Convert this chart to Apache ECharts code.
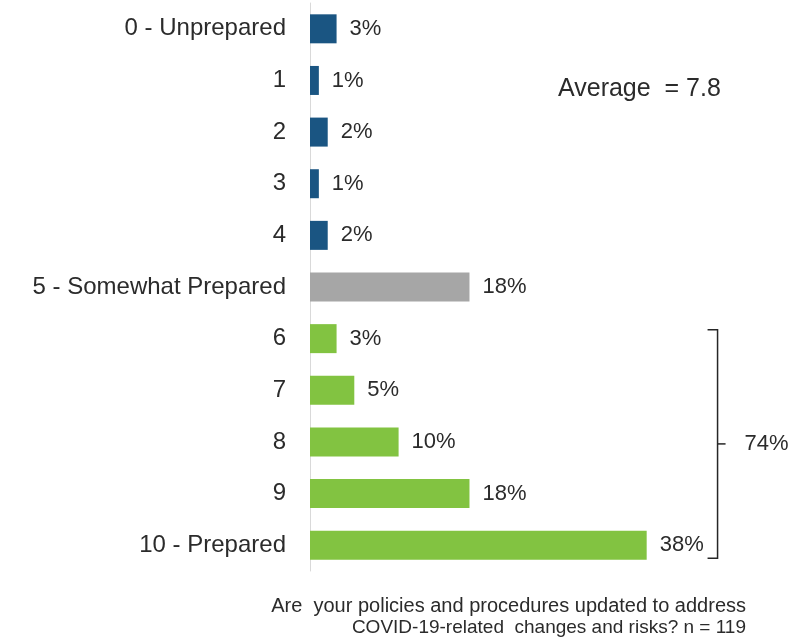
<!DOCTYPE html>
<html>
<head>
<meta charset="utf-8">
<script src="https://cdn.jsdelivr.net/npm/echarts@6/dist/echarts.min.js"></script>
<style>
  html, body { margin: 0; padding: 0; background: #ffffff; }
  #chart { width: 805px; height: 637px; }
</style>
</head>
<body>
<div id="chart"></div>
<script>
// Preparedness scale, 0 (unprepared) to 10 (prepared)
const categories = [
  '0 - Unprepared', '1', '2', '3', '4', '5 - Somewhat Prepared',
  '6', '7', '8', '9', '10 - Prepared'
];
// Share of respondents per score, in percent
const shares = [3, 1, 2, 1, 2, 18, 3, 5, 10, 18, 38];
// Colour group for each score: low, neutral, high
const groups = ['low', 'low', 'low', 'low', 'low', 'mid', 'high', 'high', 'high', 'high', 'high'];
const averageScore = 7.8;
const sampleSize = 119;

const groupColors = { low: '#1a5582', mid: '#a6a6a6', high: '#82c341' };
const textColor = '#2b2b2b';
const fontFamily = '"Liberation Sans", Arial, sans-serif';

// Scores 6-10 are bracketed together with their combined share
const highIdx = groups.map((g, i) => g === 'high' ? i : -1).filter(i => i >= 0);
const highTotal = highIdx.reduce((s, i) => s + shares[i], 0);

const chart = echarts.init(document.getElementById('chart'), null, { renderer: 'canvas' });

chart.setOption({
  animation: false,
  backgroundColor: '#ffffff',
  grid: { left: 310, top: 3, height: 568, right: 52 },
  xAxis: {
    type: 'value', min: 0, max: 50,
    show: false, splitLine: { show: false }
  },
  yAxis: {
    type: 'category',
    data: categories,
    inverse: true,
    axisLine: { show: true, lineStyle: { color: '#d9d9d9', width: 1 } },
    axisTick: { show: false },
    axisLabel: { color: textColor, fontSize: 24, fontFamily: fontFamily, margin: 24 }
  },
  series: [{
    type: 'bar',
    barWidth: 29,
    data: shares.map((v, i) => ({ value: v, itemStyle: { color: groupColors[groups[i]] } })),
    label: {
      show: true, position: 'right', distance: 13,
      formatter: p => p.value + '%',
      color: textColor, fontSize: 22, fontFamily: fontFamily
    }
  }]
});

// Bracket around the high scores, plus the average and the question text
function drawAnnotations() {
  const first = highIdx[0], last = highIdx[highIdx.length - 1];
  const yTop = chart.convertToPixel({ yAxisIndex: 0 }, categories[first]) - 9;
  const yBot = chart.convertToPixel({ yAxisIndex: 0 }, categories[last]) + 13;
  const yMid = (yTop + yBot) / 2;
  const xBr = chart.convertToPixel({ xAxisIndex: 0 }, 46);
  const stroke = { stroke: '#262626', lineWidth: 1.5 };

  chart.setOption({
    graphic: [
      { type: 'polyline', shape: { points: [[xBr - 10, yTop], [xBr, yTop], [xBr, yBot], [xBr - 10, yBot]] }, style: Object.assign({ fill: null }, stroke) },
      { type: 'line', shape: { x1: xBr, y1: yMid, x2: xBr + 8, y2: yMid }, style: stroke },
      { type: 'text', x: xBr + 27, y: yMid, style: { text: highTotal + '%', fill: textColor, font: '22px ' + fontFamily, textVerticalAlign: 'middle' } },
      { type: 'text', x: 558, y: 89, style: { text: 'Average  = ' + averageScore, fill: textColor, font: '25px ' + fontFamily, textVerticalAlign: 'middle' } },
      { type: 'text', x: 746, y: 606, style: { text: 'Are  your policies and procedures updated to address', fill: textColor, font: '20px ' + fontFamily, textAlign: 'right', textVerticalAlign: 'middle' } },
      { type: 'text', x: 746, y: 628, style: { text: 'COVID-19-related  changes and risks? n = ' + sampleSize, fill: textColor, font: '19px ' + fontFamily, textAlign: 'right', textVerticalAlign: 'middle' } }
    ]
  });
}
drawAnnotations();
</script>
</body>
</html>
